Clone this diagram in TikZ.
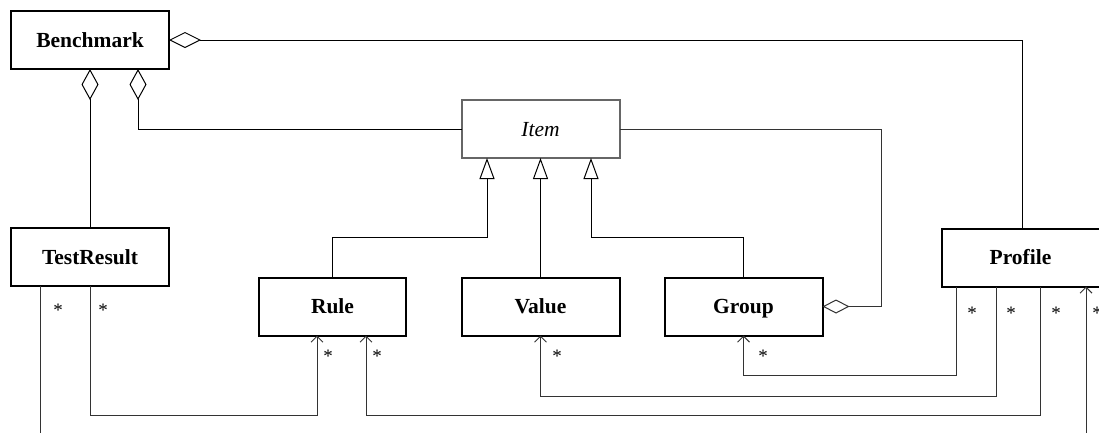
\documentclass[tikz,border=0pt]{standalone}
\usepackage{fontspec}
\setmainfont{Liberation Serif}
\usetikzlibrary{arrows.meta,calc}
\begin{document}
\begin{tikzpicture}[x=1pt,y=-1pt,
  cls/.style={draw=black, line width=2pt, inner sep=0pt, outer sep=0pt,
    minimum width=158pt, minimum height=58pt, text height=14.3pt, text depth=0pt,
    font=\fontsize{21.5}{24}\selectfont\bfseries},
  abscls/.style={cls, draw=black!60, font=\fontsize{21.5}{24}\selectfont\itshape},
  conn/.style={line width=1pt, draw=black},
  dconn/.style={line width=1pt, draw=black!80},
  hagg/.style={{Diamond[open,length=32pt,width=16pt]}-},
  vagg/.style={{Diamond[open,length=31pt,width=17pt]}-},
  sagg/.style={{Diamond[open,length=27pt,width=14pt]}-},
  gen/.style={-{Triangle[open,length=21pt,width=15pt]}},
  dep/.style={-{Straight Barb[length=6pt,width=12pt]}},
  mult/.style={font=\fontsize{19}{20}\selectfont, inner sep=0pt, anchor=base}
]
\useasboundingbox (0,0) rectangle (1099,432);
\clip (0,0) rectangle (1099,432);

\node[cls] (bench) at (90,40) {Benchmark};
\node[cls] (tr) at (90,257) {TestResult};
\node[abscls] (item) at (540.5,129) {Item};
\node[cls, minimum width=147pt] (rule) at (332.5,306.5) {Rule};
\node[cls] (value) at (540.5,306.5) {Value};
\node[cls] (group) at (743.5,306.5) {Group};
\node[cls] (prof) at (1020.5,257.5) {Profile};

% aggregations
\draw[conn, hagg] (bench.east) -| ([xshift=1.5pt]prof.north);
\draw[conn, vagg] (bench.south) -- (tr.north);
\draw[conn, vagg] ([xshift=48pt]bench.south) |- (item.west);
\draw[dconn, sagg] (group.east) -- ++(59,0) |- (item.east);

% generalizations
\draw[conn, gen] (rule.north) -- ++(0,-40) -| ([xshift=-53.5pt]item.south);
\draw[conn, gen] (value.north) -- (item.south);
\draw[conn, gen] (group.north) -- ++(0,-40) -| ([xshift=50.5pt]item.south);

% dependencies
\draw[dconn, dep] (tr.south) -- ++(0,129) -| ([xshift=-15.5pt]rule.south);
\draw[dconn, dep] ([xshift=-50pt]tr.south) -- ++(0,170) -| ([xshift=65.5pt]prof.south);
\draw[dconn, dep] ([xshift=-64.5pt]prof.south) -- ++(0,88.5) -| (group.south);
\draw[dconn, dep] ([xshift=-24.5pt]prof.south) -- ++(0,109.5) -| (value.south);
\draw[dconn, dep] ([xshift=19.5pt]prof.south) -- ++(0,128.5) -| ([xshift=33.5pt]rule.south);

% multiplicities
\node[mult] (m1) at (58,316) {*};
\node[mult] (m2) at (103,316) {*};
\node[mult] (m3) at (328,362) {*};
\node[mult] (m4) at (377,362) {*};
\node[mult] (m5) at (557,362) {*};
\node[mult] (m6) at (763,362) {*};
\node[mult] (m7) at (972,319) {*};
\node[mult] (m8) at (1011,319) {*};
\node[mult] (m9) at (1056,319) {*};
\node[mult] (m10) at (1097,319) {*};
\end{tikzpicture}
\end{document}
